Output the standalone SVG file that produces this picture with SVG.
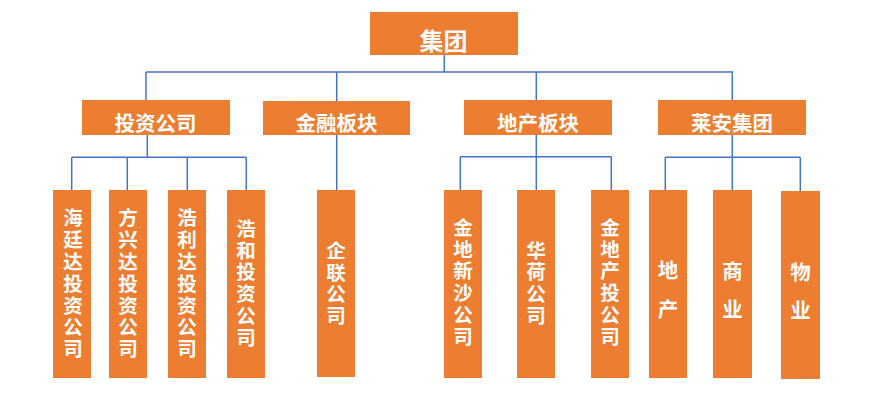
<svg xmlns="http://www.w3.org/2000/svg" width="870" height="418" viewBox="0 0 870 418">
<style>
.box{fill:#ED7D31}
.t{fill:#FFFFFF;font-family:"Noto Sans CJK SC","Noto Sans CJK JP",sans-serif;font-weight:bold;text-anchor:middle;dominant-baseline:central}
.t1{font-size:24px}
.t2{font-size:20.5px}
.v{fill:#FFFFFF;font-family:"Noto Sans CJK SC","Noto Sans CJK JP",sans-serif;font-weight:bold;font-size:19.5px;letter-spacing:2.3px;text-anchor:middle;writing-mode:vertical-rl}
.ln{fill:none;stroke:#4472C4;stroke-width:1.5}
</style>
<rect width="870" height="418" fill="#FFFFFF"/>
<g id="connectors" class="ln">
<path d="M444.3,55 V72 M146,72 H733 M146,72 V100 M336.7,72 V101 M536.3,72 V100 M732.3,72 V100"/>
<path d="M147.3,135 V157.3 M71.7,157.3 H246.3 M71.7,157.3 V190 M127.3,157.3 V190 M187.3,157.3 V190 M246.3,157.3 V190"/>
<path d="M336.7,135 V190"/>
<path d="M536.3,135 V156.7 M460.3,156.7 H611.3 M460.3,156.7 V190 M536.3,156.7 V190 M611.3,156.7 V190"/>
<path d="M732.3,135 V157.3 M665.3,157.3 H800.3 M665.3,157.3 V190 M732.3,157.3 V190 M800.3,157.3 V191"/>
</g>
<g id="n-root"><rect class="box" x="370" y="12" width="148" height="43"/><text class="t t1" x="443.5" y="39">集团</text></g>
<g id="n-invest"><rect class="box" x="82" y="100" width="148" height="35"/><text class="t t2" x="155.5" y="122">投资公司</text></g>
<g id="n-finance"><rect class="box" x="263" y="101" width="147" height="34"/><text class="t t2" x="336.5" y="122">金融板块</text></g>
<g id="n-estate"><rect class="box" x="464" y="100" width="148" height="35"/><text class="t t2" x="538" y="122">地产板块</text></g>
<g id="n-laian"><rect class="box" x="658" y="100" width="148" height="35"/><text class="t t2" x="732" y="122">莱安集团</text></g>

<g id="n-haiting"><rect class="box" x="53" y="190" width="38" height="188"/><text class="v" x="73" y="284.5">海廷达投资公司</text></g>
<g id="n-fangxing"><rect class="box" x="109" y="190" width="38" height="188"/><text class="v" x="128" y="284.5">方兴达投资公司</text></g>
<g id="n-haoli"><rect class="box" x="168" y="190" width="38" height="188"/><text class="v" x="187" y="284.5">浩利达投资公司</text></g>
<g id="n-haohe"><rect class="box" x="227" y="190" width="38" height="188"/><text class="v" x="246" y="284">浩和投资公司</text></g>
<g id="n-qilian"><rect class="box" x="317" y="190" width="38" height="187"/><text class="v" x="336" y="284.2">企联公司</text></g>
<g id="n-jindixinsha"><rect class="box" x="444" y="190" width="38" height="188"/><text class="v" x="463" y="283">金地新沙公司</text></g>
<g id="n-huahe"><rect class="box" x="517" y="190" width="38" height="188"/><text class="v" x="536" y="284">华荷公司</text></g>
<g id="n-jindichan"><rect class="box" x="591" y="190" width="38" height="188"/><text class="v" x="610" y="283">金地产投公司</text></g>
<g id="n-dichan"><rect class="box" x="649" y="190" width="38" height="188"/>
<text class="t t2" x="668" y="269">地</text><text class="t t2" x="668" y="308">产</text></g>
<g id="n-shangye"><rect class="box" x="713" y="190" width="39" height="188"/>
<text class="t t2" x="732.5" y="269.5">商</text><text class="t t2" x="732.5" y="308">业</text></g>
<g id="n-wuye"><rect class="box" x="781" y="191" width="39" height="188"/>
<text class="t t2" x="800.5" y="270.5">物</text><text class="t t2" x="800.5" y="309">业</text></g>
</svg>
